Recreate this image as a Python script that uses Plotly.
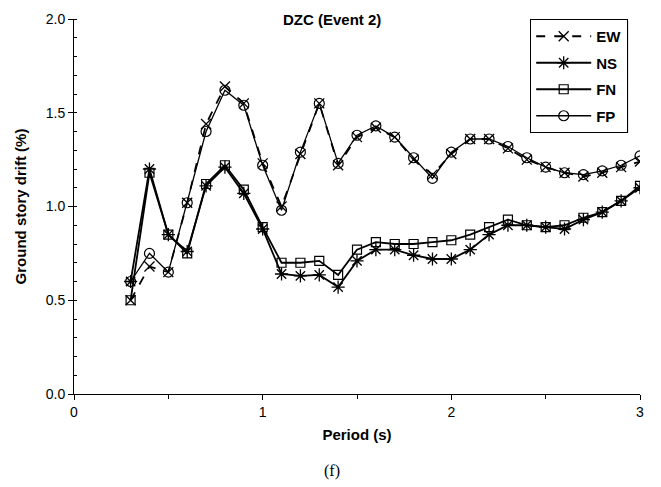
import plotly.graph_objects as go

# Spectral periods (s)
periods = [0.3, 0.4, 0.5, 0.6, 0.7, 0.8, 0.9, 1.0, 1.1, 1.2, 1.3, 1.4, 1.5, 1.6,
           1.7, 1.8, 1.9, 2.0, 2.1, 2.2, 2.3, 2.4, 2.5, 2.6, 2.7, 2.8, 2.9, 3.0]

# Ground story drift (%) per excitation direction
drift_ew = [0.50, 0.68, 0.65, 1.02, 1.44, 1.64, 1.55, 1.23, 1.00, 1.28, 1.55, 1.22, 1.37, 1.42,
            1.37, 1.25, 1.17, 1.28, 1.36, 1.36, 1.31, 1.25, 1.21, 1.18, 1.16, 1.18, 1.21, 1.24]
drift_ns = [0.60, 1.20, 0.85, 0.76, 1.11, 1.21, 1.07, 0.88, 0.64, 0.63, 0.635, 0.57, 0.71, 0.77,
            0.77, 0.74, 0.72, 0.72, 0.77, 0.85, 0.90, 0.90, 0.89, 0.88, 0.93, 0.97, 1.03, 1.10]
drift_fn = [0.50, 1.18, 0.85, 0.75, 1.12, 1.22, 1.09, 0.89, 0.70, 0.70, 0.71, 0.635, 0.77, 0.81,
            0.80, 0.80, 0.81, 0.82, 0.85, 0.89, 0.93, 0.90, 0.89, 0.90, 0.94, 0.97, 1.03, 1.11]
drift_fp = [0.60, 0.75, 0.65, 1.02, 1.40, 1.62, 1.54, 1.22, 0.98, 1.29, 1.55, 1.23, 1.38, 1.43,
            1.37, 1.26, 1.15, 1.29, 1.36, 1.36, 1.32, 1.26, 1.21, 1.18, 1.17, 1.19, 1.22, 1.27]

series_names = ["EW", "NS", "FN", "FP"]
x_ticks = [0, 1, 2, 3]
y_ticks = [0.0, 0.5, 1.0, 1.5, 2.0]

FONT = "Liberation Sans, Arial, sans-serif"

styles = [
    dict(line=dict(color="black", width=1.8, dash="dash"),
         marker=dict(symbol="x-thin-open", size=10, color="black", line=dict(width=1.3, color="black"))),
    dict(line=dict(color="black", width=1.8),
         marker=dict(symbol="asterisk-open", size=11, color="black", line=dict(width=1.3, color="black"))),
    dict(line=dict(color="black", width=1.8),
         marker=dict(symbol="square-open", size=9, color="black", line=dict(width=1.2, color="black"))),
    dict(line=dict(color="black", width=1.3),
         marker=dict(symbol="circle-open", size=10, color="black", line=dict(width=1.2, color="black"))),
]

fig = go.Figure()
for i, (name, vals) in enumerate(zip(series_names, [drift_ew, drift_ns, drift_fn, drift_fp])):
    fig.add_trace(go.Scatter(
        x=periods, y=vals, name=name, mode="lines+markers",
        legendgroup=name, **styles[i]))

fig.update_layout(
    width=661, height=487,
    margin=dict(l=74, r=21, t=19, b=93),
    paper_bgcolor="white", plot_bgcolor="white",
    font=dict(family=FONT, size=14, color="black"),
    showlegend=True,
    legend=dict(
        x=0.806, y=1.0, xanchor="left", yanchor="top",
        bgcolor="white", bordercolor="black", borderwidth=1,
        font=dict(family=FONT, size=15, color="black", weight="bold"),
        traceorder="grouped", tracegroupgap=4, itemwidth=55,
    ),
    # drop shadow behind the legend box
    shapes=[dict(type="rect", xref="paper", yref="paper",
                 x0=0.811, x1=0.979, y0=0.696, y1=0.9947,
                 fillcolor="black", line=dict(width=0), layer="above")],
    annotations=[
        dict(text="<b>DZC (Event 2)</b>", xref="paper", yref="paper",
             x=0.455, y=1.0, xanchor="center", yanchor="middle",
             showarrow=False, font=dict(family=FONT, size=15)),
        dict(text="(f)", xref="paper", yref="paper",
             x=0.455, y=-0.205, xanchor="center", yanchor="middle",
             showarrow=False, font=dict(family="Liberation Serif, Times New Roman, serif", size=16)),
    ],
)

fig.update_xaxes(
    range=[0, 3], tickvals=x_ticks, ticktext=[str(v) for v in x_ticks],
    showgrid=False, zeroline=False, showline=True, linecolor="black", linewidth=1,
    ticks="outside", ticklen=5, tickcolor="black",
    minor=dict(dtick=0.5, ticks="outside", ticklen=4, tickcolor="black"),
    tickfont=dict(family=FONT, size=14),
    title=dict(text="<b>Period (s)</b>", font=dict(family=FONT, size=15), standoff=10),
)
fig.update_yaxes(
    range=[0, 2], tickvals=y_ticks, ticktext=[f"{v:.1f}" for v in y_ticks],
    showgrid=False, zeroline=False, showline=True, linecolor="black", linewidth=1,
    ticks="outside", ticklen=5, tickcolor="black",
    minor=dict(dtick=0.1, ticks="inside", ticklen=3, tickcolor="black"),
    tickfont=dict(family=FONT, size=14),
    title=dict(text="<b>Ground story drift (%)</b>", font=dict(family=FONT, size=15), standoff=15),
)

fig.write_html("out.html")
